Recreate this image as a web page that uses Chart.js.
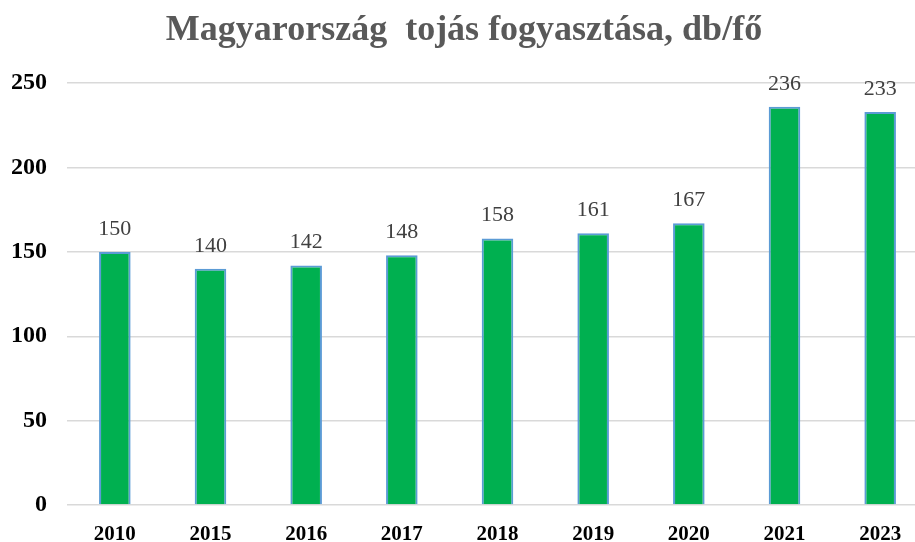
<!DOCTYPE html>
<html>
<head>
<meta charset="utf-8">
<script src="https://cdn.jsdelivr.net/npm/chart.js@4/dist/chart.umd.min.js"></script>
<style>
  html, body { margin: 0; padding: 0; background: #fff; overflow: hidden; }
  /* the reference is cropped on the right, so the chart runs a bit past the window */
  #wrap { width: 928px; height: 542px; }
</style>
</head>
<body>
<div id="wrap"><canvas id="chart"></canvas></div>
<script>
const years = ['2010', '2015', '2016', '2017', '2018', '2019', '2020', '2021', '2023']
const eggsPerPerson = [150, 140, 142, 148, 158, 161, 167, 236, 233]
const yTicks = [0, 50, 100, 150, 200, 250]

const serif = '"Liberation Serif", "Times New Roman", serif'

// value labels above each bar, placed from the bar elements
const barLabels = {
  id: 'barLabels',
  afterDatasetsDraw(chart) {
    const ctx = chart.ctx
    const meta = chart.getDatasetMeta(0)
    ctx.save()
    ctx.font = '22px ' + serif
    ctx.fillStyle = '#404040'
    ctx.textAlign = 'center'
    ctx.textBaseline = 'alphabetic'
    meta.data.forEach((bar, i) => {
      ctx.fillText(eggsPerPerson[i], bar.x, bar.y - 17)
    })
    ctx.restore()
  }
}

new Chart(document.getElementById('chart'), {
  type: 'bar',
  data: {
    labels: years,
    datasets: [{
      data: eggsPerPerson,
      backgroundColor: '#00b050',
      borderColor: '#5b9bd5',
      borderWidth: 2,
      categoryPercentage: 1,
      barPercentage: 0.33
    }]
  },
  options: {
    responsive: true,
    maintainAspectRatio: false,
    animation: false,
    layout: { padding: 0 },
    plugins: {
      legend: { display: false },
      tooltip: { enabled: false },
      title: {
        display: true,
        text: 'Magyarország  tojás fogyasztása, db/fő',
        color: '#595959',
        font: { family: serif, size: 36, weight: 'bold' },
        padding: { top: 9, bottom: 31 }
      }
    },
    scales: {
      x: {
        grid: { display: false },
        border: { display: false },
        ticks: {
          color: '#000',
          padding: 9,
          font: { family: serif, size: 21, weight: 'bold' }
        },
        afterFit(scale) { scale.height = 37 }
      },
      y: {
        min: 0,
        max: 250,
        afterBuildTicks(scale) { scale.ticks = yTicks.map((v) => ({ value: v })) },
        grid: { color: '#d9d9d9', lineWidth: 1.5, drawTicks: false },
        border: { display: false },
        ticks: {
          color: '#000',
          padding: 20,
          font: { family: serif, size: 24, weight: 'bold' }
        },
        afterFit(scale) { scale.width = 67 }
      }
    }
  },
  plugins: [barLabels]
})
</script>
</body>
</html>
